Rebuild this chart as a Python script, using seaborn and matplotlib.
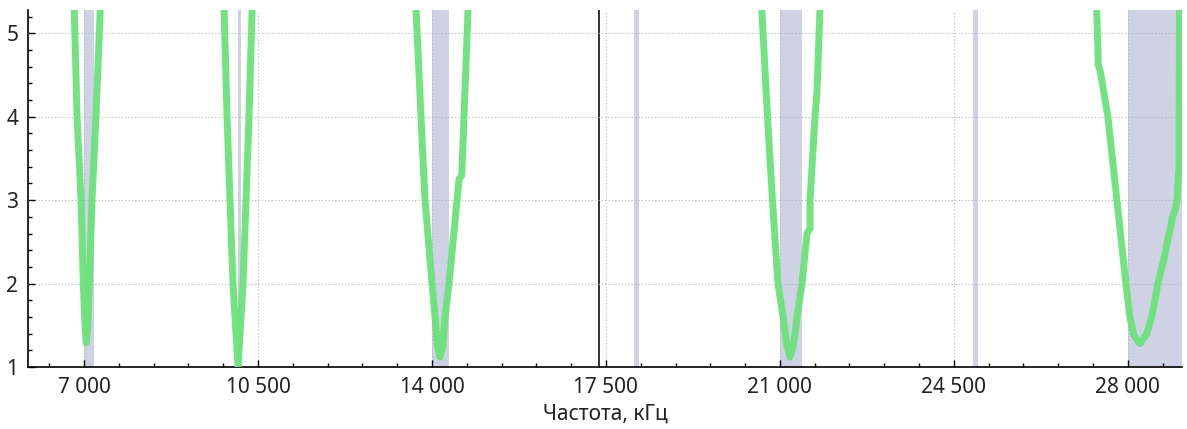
import pandas as pd
import matplotlib.pyplot as plt
from matplotlib.ticker import MultipleLocator, FuncFormatter
import seaborn as sns

# amateur bands (kHz) shaded on the chart
band_start = [7000, 10100, 14000, 18068, 21000, 24890, 28000]
band_end = [7200, 10150, 14350, 18168, 21450, 24990, 29700]

# SWR curves, one list per band
freq_40m = [6800, 6860, 6940, 6985, 7020, 7045, 7075, 7105, 7160, 7240, 7330]
swr_40m = [5.35, 4.0, 3.0, 2.0, 1.5, 1.29, 1.5, 2.0, 3.0, 4.0, 5.35]

freq_30m = [9815, 9877, 9937, 9997, 10098, 10199, 10259, 10319, 10385]
swr_30m = [5.35, 4.0, 3.0, 2.0, 1.0, 2.0, 3.0, 4.0, 5.35]

freq_20m = [13675, 13779, 13860, 14001, 14062, 14110, 14162, 14215, 14263, 14343,
            14504, 14545, 14600, 14644, 14730]
swr_20m = [5.35, 4.0, 3.0, 2.0, 1.6, 1.25, 1.12, 1.25, 1.6, 2.0,
           3.0, 3.25, 3.3, 4.0, 5.35]

freq_15m = [20630, 20750, 20850, 20960, 21065, 21140, 21203, 21270, 21344, 21445,
            21545, 21606, 21606, 21706, 21746, 21810]
swr_15m = [5.35, 4.0, 3.0, 2.0, 1.6, 1.25, 1.12, 1.25, 1.6, 2.0,
           2.6, 2.66, 3.0, 4.0, 4.3, 5.35]

freq_10m = [27370, 27398, 27405, 27445, 27599, 27780, 27961, 28040, 28120, 28243,
            28380, 28480, 28605, 28686, 28710, 28900, 28947, 28988, 29030, 29040]
swr_10m = [5.35, 4.8, 4.62, 4.55, 4.0, 3.0, 2.0, 1.6, 1.38, 1.28,
           1.4, 1.6, 2.0, 2.2, 2.25, 2.8, 2.88, 3.0, 3.4, 5.35]

marker_freq = 17365
x_ticks = [7000, 10500, 14000, 17500, 21000, 24500, 28000]
y_ticks = [1, 2, 3, 4, 5]


def main():
    sns.set_style('white')
    plt.rcParams['font.family'] = ['Noto Sans', 'DejaVu Sans']

    # long table for seaborn
    parts = []
    for name, f, s in [('40m', freq_40m, swr_40m), ('30m', freq_30m, swr_30m),
                       ('20m', freq_20m, swr_20m), ('15m', freq_15m, swr_15m),
                       ('10m', freq_10m, swr_10m)]:
        parts.append(pd.DataFrame({'freq': f, 'swr': s, 'band': name}))
    df = pd.concat(parts, ignore_index=True)

    fig = plt.figure(figsize=(11.87, 4.29), dpi=100)
    ax = fig.add_axes([0.0236, 0.1445, 0.9722, 0.8322])

    for a, b in zip(band_start, band_end):
        ax.axvspan(a, b, color='#cfd1e5', lw=0, zorder=0)

    ax.axvline(marker_freq, color='#333333', lw=1.4, zorder=2)

    sns.lineplot(data=df, x='freq', y='swr', units='band', estimator=None,
                 sort=False, color='#6be27a', lw=5, alpha=0.95, ax=ax,
                 zorder=3, solid_capstyle='round', solid_joinstyle='round')

    ax.set_xlim(5873, 29090)
    ax.set_ylim(1, 5.28)
    ax.set_xticks(x_ticks)
    ax.set_yticks(y_ticks)
    ax.xaxis.set_minor_locator(MultipleLocator(700))
    ax.yaxis.set_minor_locator(MultipleLocator(0.2))
    ax.xaxis.set_major_formatter(FuncFormatter(lambda v, p: f'{int(v):,}'.replace(',', ' ')))

    ax.grid(True, which='major', color='#b5b5b5', linestyle=(0, (1, 2)), lw=0.8, zorder=1)
    ax.set_axisbelow(False)
    for sp in ['top', 'right']:
        ax.spines[sp].set_visible(False)
    for sp in ['left', 'bottom']:
        ax.spines[sp].set_color('black')
        ax.spines[sp].set_linewidth(1.2)

    ax.tick_params(which='both', direction='in', color='black', width=1,
                   bottom=True, left=True, top=False, right=False,
                   labelsize=15, labelcolor='#222222')
    ax.tick_params(which='major', length=5)
    ax.tick_params(which='minor', length=3)
    ax.tick_params(axis='x', pad=7)
    ax.tick_params(axis='y', pad=7)

    ax.set_xlabel('Частота, кГц', fontsize=15, color='#222222', labelpad=4)
    ax.set_ylabel('')

    leg = ax.get_legend()
    if leg is not None:
        leg.remove()

    fig.savefig('out.png', dpi=100)
    plt.close(fig)


if __name__ == "__main__":
    main()
